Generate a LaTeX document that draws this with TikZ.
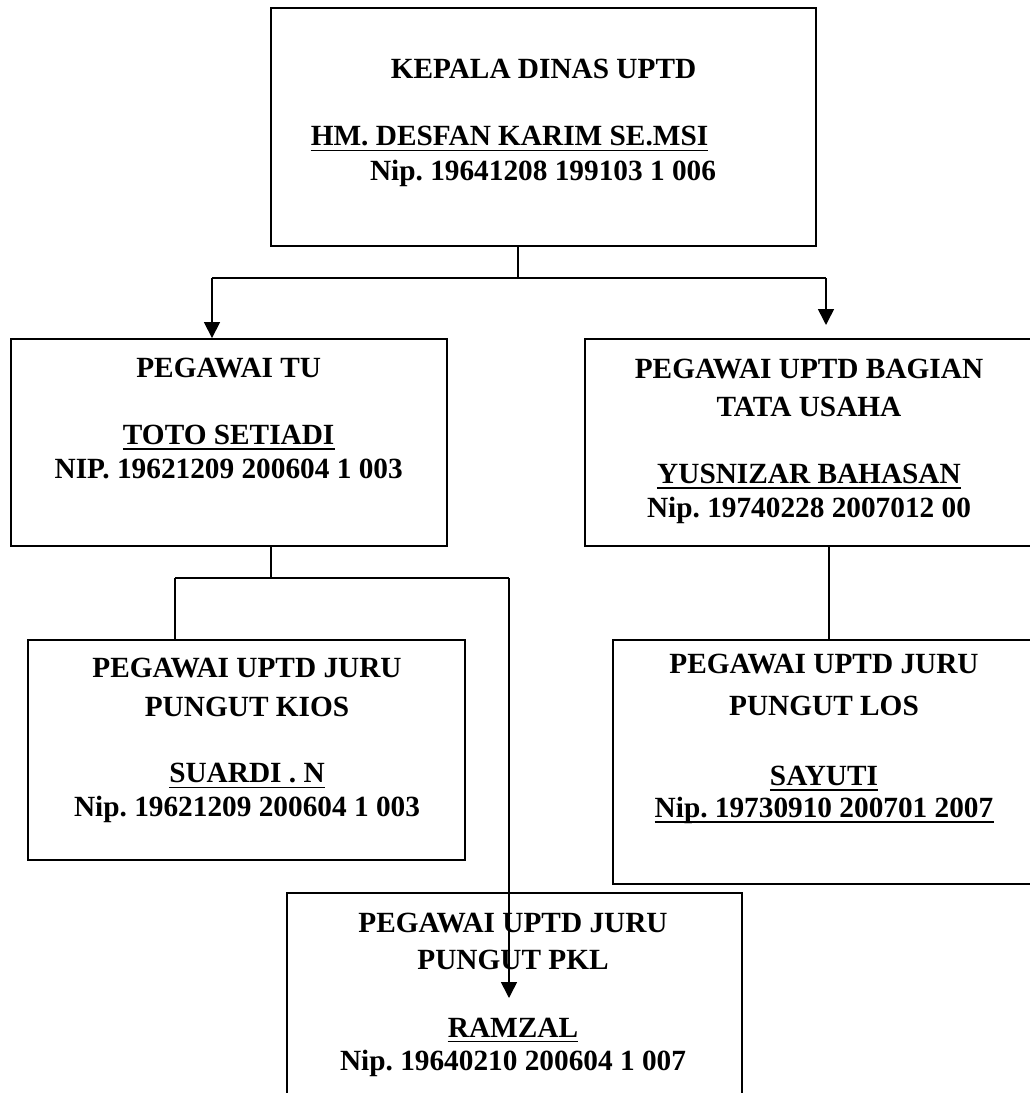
\documentclass[tikz,border=0pt]{standalone}
\usepackage{fontspec}
\setmainfont{Liberation Serif}
\usetikzlibrary{arrows.meta}
\frenchspacing
\tikzset{
  box/.style={draw, line width=1.9pt, inner sep=0pt, rectangle},
  txt/.style={font=\fontsize{29.3}{35}\selectfont\bfseries\frenchspacing, inner sep=0pt, anchor=base},
  ulin/.style={line width=1.8pt},
  conn/.style={line width=1.6pt},
  arr/.style={conn, -{Triangle[length=16pt,width=16pt]}}
}
\begin{document}
\begin{tikzpicture}[x=1pt,y=-1pt]
\useasboundingbox (0,0) rectangle (1030,1093);
\clip (0,0) rectangle (1030,1093);
\fill[white] (0,0) rectangle (1030,1093);

% boxes
\node[box, minimum width=545pt, minimum height=238pt] (top) at (543.5,127) {};
\node[box, minimum width=436pt, minimum height=207pt] (tu) at (229,442.5) {};
\node[box, minimum width=448pt, minimum height=207pt] (tata) at (809,442.5) {};
\node[box, minimum width=437pt, minimum height=220pt] (kios) at (246.5,750) {};
\node[box, minimum width=422pt, minimum height=244pt] (los) at (824,762) {};
\node[box, minimum width=455pt, minimum height=217pt] (pkl) at (514.5,1001.5) {};

% top box text
\node[txt] (t1) at (543.5,78.3) {KEPALA DINAS UPTD};
\node[txt] (t2) at (509.5,145) {HM. DESFAN KARIM SE.MSI};
\node[txt] (t3) at (543,180) {Nip. 19641208 199103 1 006};
\draw[ulin] ([yshift=-5.5pt]t2.base west) -- ([yshift=-5.5pt]t2.base east);

% TU
\node[txt] (u1) at (228.7,377.7) {PEGAWAI TU};
\node[txt] (u2) at (228.7,444) {TOTO SETIADI};
\node[txt] (u3) at (228.7,478.3) {NIP. 19621209 200604 1 003};
\draw[ulin] ([yshift=-4.8pt]u2.base west) -- ([yshift=-4.8pt]u2.base east);

% tata usaha
\node[txt] (r1) at (809,378) {PEGAWAI UPTD BAGIAN};
\node[txt] (r2) at (809,416) {TATA USAHA};
\node[txt] (r3) at (809,483) {YUSNIZAR BAHASAN};
\node[txt] (r4) at (809,517) {Nip. 19740228 2007012 00};
\draw[ulin] ([yshift=-5pt]r3.base west) -- ([yshift=-5pt]r3.base east);

% kios
\node[txt] (k1t) at (247,677) {PEGAWAI UPTD JURU};
\node[txt] (k2t) at (247,716) {PUNGUT KIOS};
\node[txt] (k3t) at (247,782) {SUARDI . N};
\node[txt] (k4t) at (247,816) {Nip. 19621209 200604 1 003};
\draw[ulin] ([yshift=-5.5pt]k3t.base west) -- ([yshift=-5.5pt]k3t.base east);

% los
\node[txt] (l1) at (824,673) {PEGAWAI UPTD JURU};
\node[txt] (l2) at (824,715) {PUNGUT LOS};
\node[txt] (l3) at (824,785) {SAYUTI};
\node[txt] (l4) at (824,817) {Nip. 19730910 200701 2007};
\draw[ulin] ([yshift=-5pt]l3.base west) -- ([yshift=-5pt]l3.base east);
\draw[ulin] ([yshift=-5pt]l4.base west) -- ([yshift=-5pt]l4.base east);

% pkl
\node[txt] (p1) at (513,932) {PEGAWAI UPTD JURU};
\node[txt] (p2) at (513,969) {PUNGUT PKL};
\node[txt] (p3) at (513,1037) {RAMZAL};
\node[txt] (p4) at (513,1070) {Nip. 19640210 200604 1 007};
\draw[ulin] ([yshift=-4.5pt]p3.base west) -- ([yshift=-4.5pt]p3.base east);

% connectors from top
\coordinate (j1) at (518,278);
\coordinate (jl) at (212,278);
\coordinate (jr) at (826,278);
\coordinate (ar) at (826,325);
\draw[conn] (top.south -| j1) -- (j1);
\draw[conn] (jl) -- (jr);
\draw[arr] (jl) -- (jl |- tu.north);
\draw[arr] (jr) -- (ar);

% connectors from TU
\coordinate (j2) at (271,578);
\coordinate (m1) at (175,578);
\coordinate (m2) at (509,578);
\coordinate (am) at (509,998);
\draw[conn] (tu.south -| j2) -- (j2);
\draw[conn] (m1) -- (m2);
\draw[conn] (m1) -- (m1 |- kios.north);
\draw[arr] (m2) -- (am);

% connector tata usaha -> los
\coordinate (j3) at (829,0);
\draw[conn] (tata.south -| j3) -- (los.north -| j3);
\end{tikzpicture}
\end{document}
